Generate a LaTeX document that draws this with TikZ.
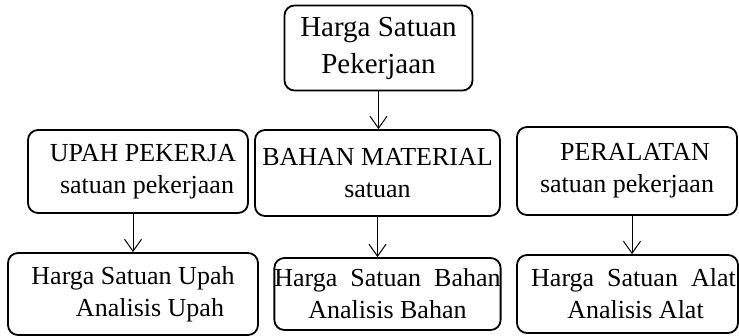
\documentclass[tikz,border=0pt]{standalone}
\usepackage{fontspec}
\setmainfont{Liberation Serif}
\usetikzlibrary{arrows.meta}

\begin{document}
\begin{tikzpicture}[x=1pt,y=-1pt,
    kotak/.style={draw, rectangle, rounded corners=10pt, line width=1.8pt,
      align=center, inner sep=0pt, font=\fontsize{26}{32}\selectfont},
    panah/.style={-{Straight Barb[length=12pt,width=17pt]}, line width=1pt}
  ]
  \useasboundingbox (0,0) rectangle (739,336);

  % Harga satuan pekerjaan
  \node[kotak, minimum width=188pt, minimum height=85pt,
        font=\fontsize{29}{37}\selectfont] (hsp) at (378.5,48)
        {Harga Satuan\\Pekerjaan};

  % Baris tengah
  \node[kotak, minimum width=220pt, minimum height=83pt] (upah) at (138,171.5)
        {\hspace*{10pt}UPAH PEKERJA\\\hspace*{18pt}satuan pekerjaan};
  \node[kotak, minimum width=245pt, minimum height=86pt] (bahan) at (377.5,173)
        {BAHAN MATERIAL\\satuan};
  \node[kotak, minimum width=220pt, minimum height=88pt] (alat) at (627,171)
        {\hspace*{16pt}PERALATAN\\satuan pekerjaan};

  % Baris bawah
  \node[kotak, minimum width=250pt, minimum height=82pt] (hsupah) at (133,294)
        {Harga Satuan Upah\\\hspace*{34pt}Analisis Upah};
  \node[kotak, minimum width=225pt, minimum height=72pt] (hsbahan) at (387.5,294)
        {Harga\enspace Satuan\enspace Bahan\\Analisis Bahan};
  \node[kotak, minimum width=221pt, minimum height=78pt] (hsalat) at (627.5,294)
        {\hspace*{12pt}Harga\enspace Satuan\enspace Alat\\\hspace*{16pt}Analisis Alat};

  % Panah
  \draw[panah] (hsp.south) -- (hsp.south |- bahan.north);
  \draw[panah] (hsupah.north |- upah.south) -- (hsupah.north);
  \draw[panah] (bahan.south) -- (bahan.south |- hsbahan.north);
  \draw[panah] ([xshift=5pt]alat.south) -- ([xshift=5pt]alat.south |- hsalat.north);
\end{tikzpicture}
\end{document}
